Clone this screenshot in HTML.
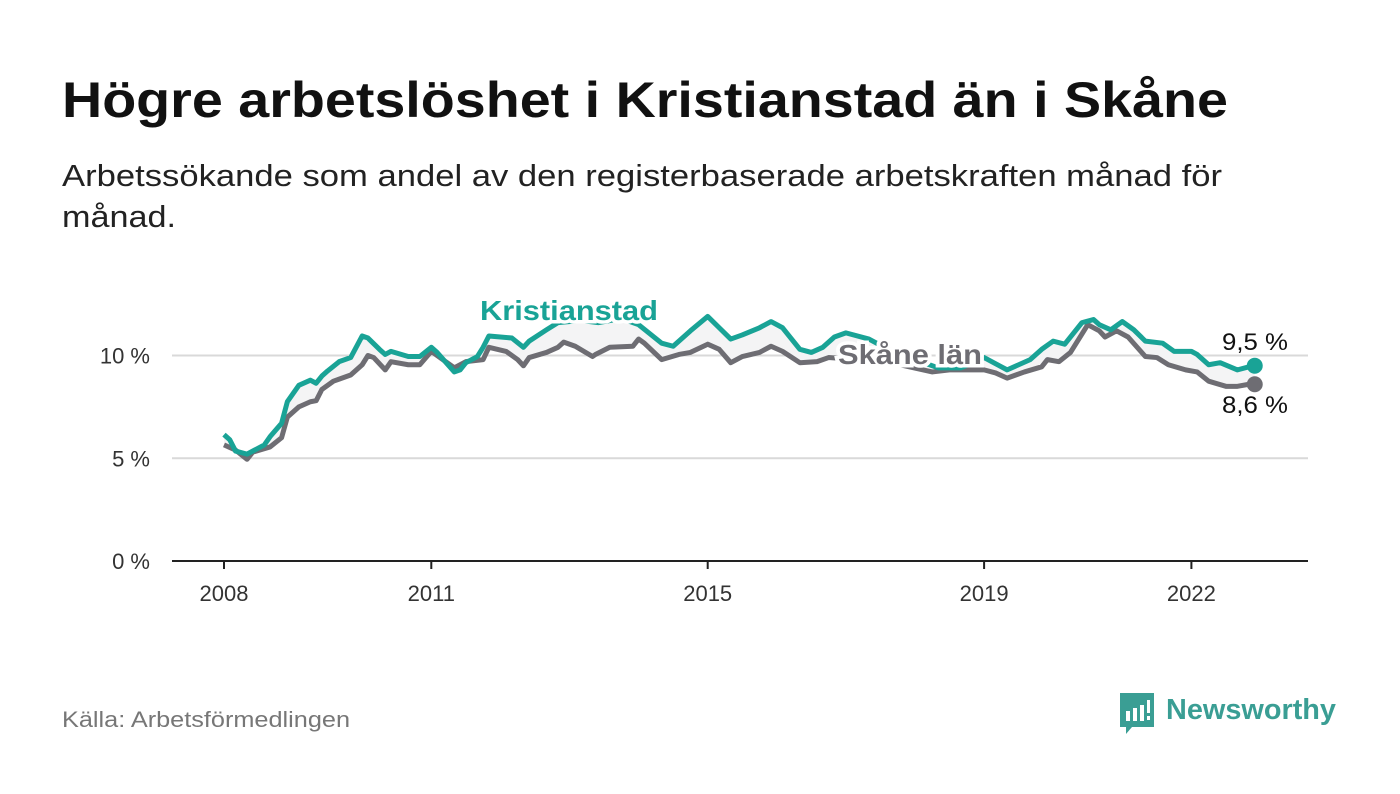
<!DOCTYPE html>
<html><head><meta charset="utf-8"><style>
html,body{margin:0;padding:0;background:#fff;}
svg{display:block;font-family:"Liberation Sans",sans-serif;}
</style></head><body>
<svg id="chart" width="1400" height="794" viewBox="0 0 1400 794">
<text x="62" y="117" font-size="50" font-weight="bold" fill="#111" textLength="1166" lengthAdjust="spacingAndGlyphs">Högre arbetslöshet i Kristianstad än i Skåne</text>
<text x="62" y="186" font-size="31" fill="#222" textLength="1160" lengthAdjust="spacingAndGlyphs">Arbetssökande som andel av den registerbaserade arbetskraften månad för</text>
<text x="62" y="227" font-size="31" fill="#222" textLength="114" lengthAdjust="spacingAndGlyphs">månad.</text>
<g id="axes"></g>
<g id="marks"></g>
<text x="62" y="727" font-size="22" fill="#777" textLength="288" lengthAdjust="spacingAndGlyphs">Källa: Arbetsförmedlingen</text>
<g>
<path d="M1120 693 h34 v34 h-22 l-6 7 v-7 h-6 z" fill="#3a9e94"/>
<rect x="1126" y="711" width="4" height="10" fill="#fff"/><rect x="1133" y="708" width="4" height="13" fill="#fff"/><rect x="1140" y="705" width="4" height="16" fill="#fff"/><rect x="1147" y="700" width="3" height="13" fill="#fff"/><rect x="1147" y="716" width="3" height="4" fill="#fff"/>
<text x="1166" y="719" font-size="29" font-weight="bold" fill="#3a9e94" textLength="170" lengthAdjust="spacingAndGlyphs">Newsworthy</text>
</g>
</svg>
<script>
// months since Jan 2008
const kMonths=[0,1,2,4,7,8,10,11,13,15,16,17,18,20,22,24,25,27,28,29,32,34,36,37,40,41,42,44,45,46,50,52,53,56,58,62,65,69,72,76,78,79,81,84,86,88,90,93,95,97,100,102,104,106,108,112,116,121,124,128,132,135,136,140,142,144,146,149,151,152,154,156,158,160,163,165,168,169,171,173,176,178,179];
const kValues=[6.15,5.9,5.35,5.2,5.65,6.05,6.7,7.75,8.55,8.8,8.65,9.0,9.25,9.7,9.9,10.95,10.85,10.3,10.05,10.2,9.95,9.95,10.4,10.15,9.2,9.3,9.65,9.95,10.4,10.95,10.85,10.4,10.7,11.25,11.6,11.7,11.6,11.8,11.5,10.6,10.45,10.7,11.2,11.9,11.35,10.8,11.0,11.35,11.65,11.35,10.3,10.15,10.4,10.9,11.1,10.8,10.2,9.7,9.4,9.4,9.9,9.45,9.3,9.8,10.3,10.7,10.55,11.6,11.75,11.5,11.25,11.65,11.25,10.7,10.6,10.2,10.2,10.05,9.55,9.65,9.3,9.45,9.5];
const sMonths=[0,2,4,5,8,10,11,13,15,16,17,19,20,22,24,25,26,28,29,32,34,36,37,40,42,45,46,49,51,52,53,56,58,59,61,64,64.5,67,71,72,73,76,79,81,84,86,88,90,93,95,97,100,103,105,115,123,126,128,132,134,136,139,142,143,145,147,150,152,153,155,157,160,162,164,167,169,171,174,176,178,179];
const sValues=[5.65,5.4,4.95,5.3,5.55,6.0,7.0,7.5,7.75,7.8,8.35,8.75,8.85,9.05,9.55,10.0,9.9,9.3,9.7,9.55,9.55,10.2,10.0,9.4,9.7,9.8,10.4,10.2,9.8,9.5,9.9,10.15,10.4,10.65,10.45,9.95,10.05,10.4,10.45,10.8,10.6,9.8,10.05,10.15,10.55,10.3,9.65,9.95,10.15,10.45,10.2,9.65,9.7,9.9,9.7,9.2,9.3,9.3,9.3,9.15,8.9,9.2,9.45,9.8,9.7,10.15,11.5,11.2,10.9,11.2,10.9,9.95,9.9,9.55,9.3,9.2,8.75,8.5,8.5,8.6,8.6];
const yTicks=[0,5,10];
const yTickLabels=["0 %","5 %","10 %"];
const xTicks=[2008,2011,2015,2019,2022];
const kLast="9,5 %", sLast="8,6 %";

const NS="http://www.w3.org/2000/svg";
const x0=224, pxPerYear=69.1, yBase=561, pxPerUnit=20.55;
const xM=m=>x0+m*pxPerYear/12;
const xY=y=>x0+(y-2008)*pxPerYear;
const yV=v=>yBase-v*pxPerUnit;
function mk(tag,attrs,parent,txt){const e=document.createElementNS(NS,tag);for(const k in attrs)e.setAttribute(k,attrs[k]);if(txt!==undefined)e.textContent=txt;parent.appendChild(e);return e;}
const axes=document.getElementById('axes'), marks=document.getElementById('marks');
yTicks.forEach((t,i)=>{
  if(t>0){const g=mk('line',{x1:172,x2:1308,y1:yV(t),y2:yV(t),stroke:'#d9d9d9','stroke-width':2},axes);
  
  }
  const l=mk('text',{x:150,y:yV(t)+8,'font-size':22,fill:'#333','text-anchor':'end'},axes,yTickLabels[i]);
  
  
});
const ax=mk('line',{x1:172,x2:1308,y1:yBase,y2:yBase,stroke:'#222','stroke-width':2},axes);


xTicks.forEach(t=>{
  const tk=mk('line',{x1:xY(t),x2:xY(t),y1:yBase,y2:yBase+8,stroke:'#222','stroke-width':2},axes);
  
  
  const l=mk('text',{x:xY(t),y:601,'font-size':22,fill:'#333','text-anchor':'middle'},axes,String(t));
  
  
});
const kPts=kMonths.map((m,i)=>[xM(m),yV(kValues[i])]);
const sPts=sMonths.map((m,i)=>[xM(m),yV(sValues[i])]);
const area=mk('polygon',{points:kPts.concat(sPts.slice().reverse()).map(p=>p.join(',')).join(' '),fill:'#f4f4f5'},marks);


const sl=mk('polyline',{points:sPts.map(p=>p.join(',')).join(' '),fill:'none',stroke:'#6e6d73','stroke-width':5,'stroke-linejoin':'round'},marks);


const kl=mk('polyline',{points:kPts.map(p=>p.join(',')).join(' '),fill:'none',stroke:'#19a396','stroke-width':5,'stroke-linejoin':'round'},marks);


const ke=kPts[kPts.length-1], se=sPts[sPts.length-1];
const sd=mk('circle',{cx:se[0],cy:se[1],r:8,fill:'#6e6d73'},marks);


const kd=mk('circle',{cx:ke[0],cy:ke[1],r:8,fill:'#19a396'},marks);


const kv=mk('text',{x:1222,y:350,'font-size':24,fill:'#111',textLength:66,lengthAdjust:'spacingAndGlyphs'},marks,kLast);


const sv=mk('text',{x:1222,y:413,'font-size':24,fill:'#111',textLength:66,lengthAdjust:'spacingAndGlyphs'},marks,sLast);


const kLab=mk('text',{x:480,y:320,'font-size':28,'font-weight':'bold',fill:'#19a396',stroke:'#fff','stroke-width':7,'paint-order':'stroke',textLength:178,lengthAdjust:'spacingAndGlyphs'},marks,'Kristianstad');


const sLab=mk('text',{x:838,y:364,'font-size':28,'font-weight':'bold',fill:'#6e6d73',stroke:'#fff','stroke-width':7,'paint-order':'stroke',textLength:144,lengthAdjust:'spacingAndGlyphs'},marks,'Skåne län');


</script>
</body></html>
